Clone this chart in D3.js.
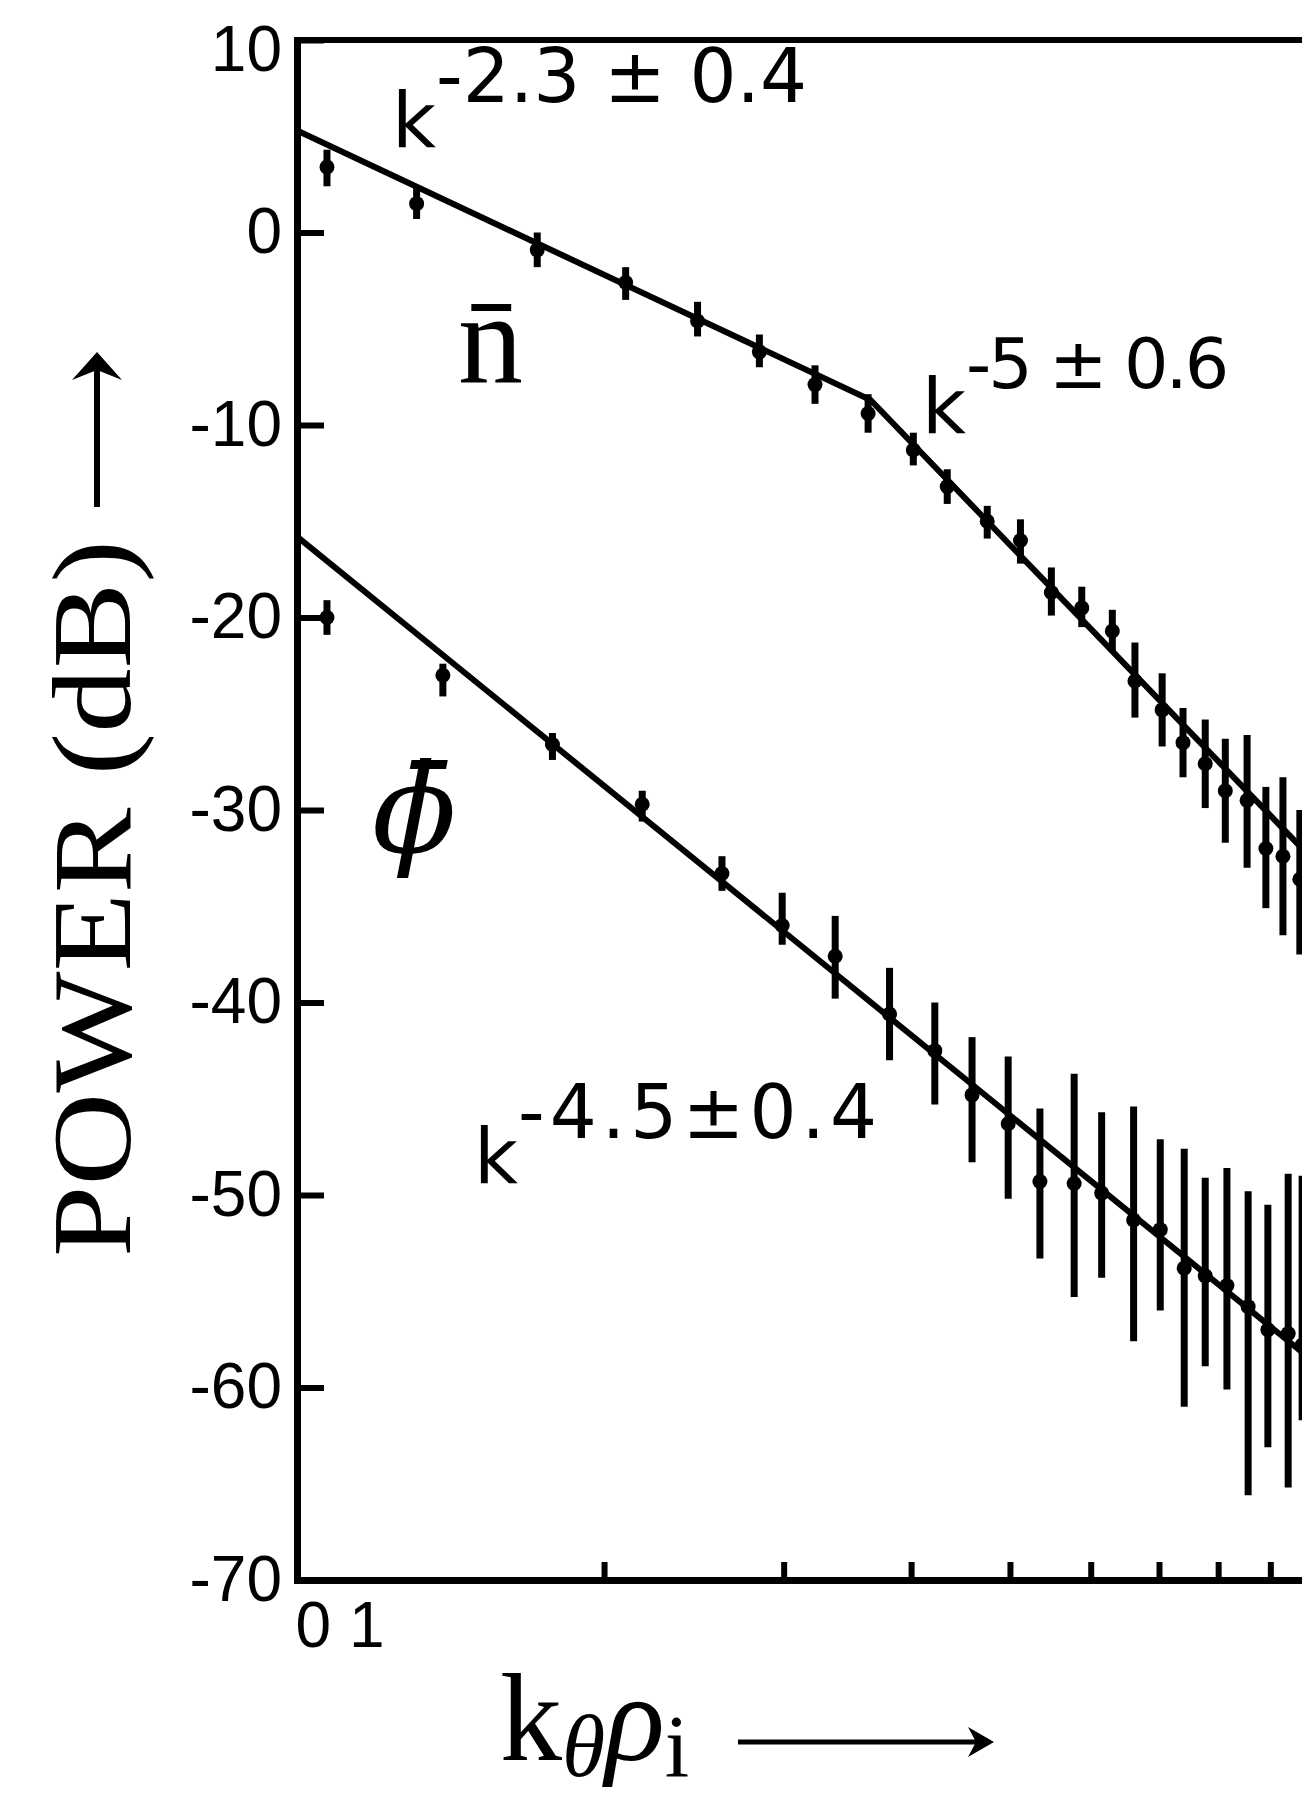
<!DOCTYPE html>
<html>
  <head>
    <meta charset="utf-8">
    <title>Power spectra of n and phi vs k_theta rho_i</title>
    <script src="https://d3js.org/d3.v7.min.js"></script>
    <style>
      body { margin: 0; background: #fff; }
      svg { display: block; }
      .axis text { font-family: "Liberation Sans", Arial, sans-serif; font-size: 64px; fill: #000; }
      .axis path, .axis line { stroke: #000; }
      .serif { font-family: "Liberation Serif", "Times New Roman", serif; fill: #000; }
      .ann { font-family: "DejaVu Sans", sans-serif; fill: #000; }
    </style>
  </head>
  <body>
  <div id="chart"></div>

  <script>
  // ---- data ----
  // x: k_theta rho_i (log axis), y: power in dB

  // density fluctuation spectrum (n bar)
  var nK  = [0.107, 0.131, 0.172, 0.210, 0.247, 0.284, 0.322, 0.363, 0.402, 0.434, 0.475, 0.512,
             0.549, 0.588, 0.630, 0.663, 0.705, 0.739, 0.777, 0.813, 0.854, 0.891, 0.926, 0.962];
  var nDb = [3.4, 1.5, -0.9, -2.6, -4.6, -6.2, -7.9, -9.4, -11.3, -13.2, -15.0, -16.0,
             -18.7, -19.5, -20.7, -23.3, -24.8, -26.5, -27.6, -29.0, -29.5, -32.0, -32.4, -33.6];
  var nHi = [4.3, 2.4, 0.0, -1.8, -3.6, -5.3, -6.9, -8.4, -10.4, -12.3, -14.2, -14.9,
             -17.4, -18.4, -19.6, -21.3, -22.9, -24.7, -25.3, -26.3, -26.1, -28.8, -28.3, -30.0];
  var nLo = [2.4, 0.7, -1.8, -3.5, -5.4, -7.0, -8.9, -10.4, -12.1, -14.1, -15.9, -17.2,
             -19.9, -20.5, -21.8, -25.2, -26.7, -28.3, -29.9, -31.7, -33.0, -35.1, -36.5, -37.5];

  // potential fluctuation spectrum (phi bar)
  var phiK  = [0.107, 0.139, 0.178, 0.218, 0.261, 0.299, 0.337, 0.381, 0.422, 0.459, 0.498, 0.535,
               0.578, 0.615, 0.661, 0.702, 0.741, 0.777, 0.816, 0.856, 0.895, 0.937, 0.967];
  var phiDb = [-20.0, -23.0, -26.6, -29.7, -33.3, -36.0, -37.6, -40.6, -42.5, -44.8, -46.3, -49.3,
               -49.4, -49.9, -51.3, -51.8, -53.8, -54.2, -54.7, -55.8, -57.0, -57.2, -57.8];
  var phiHi = [-19.1, -22.4, -26.0, -29.0, -32.4, -34.3, -35.5, -38.2, -40.0, -41.8, -42.8, -45.5,
               -43.7, -45.7, -45.4, -47.1, -47.6, -49.1, -48.6, -49.8, -50.5, -48.9, -49.0];
  var phiLo = [-20.9, -24.1, -27.4, -30.6, -34.2, -37.0, -39.8, -43.0, -45.3, -48.3, -50.2, -53.3,
               -55.3, -54.3, -57.6, -56.0, -61.0, -58.9, -60.1, -65.6, -63.1, -65.2, -61.7];

  // power-law fits (broken line for n, single line for phi)
  var nFitK = [0.1, 0.365, 1.0];
  var nFitDb = [5.3, -8.7, -32.8];
  var phiFitK = [0.1, 1.0];
  var phiFitDb = [-15.8, -58.8];

  // tick values
  var yTicks = [10, 0, -10, -20, -30, -40, -50, -60, -70];
  var xTicks = [0.1, 0.2, 0.3, 0.4, 0.5, 0.6, 0.7, 0.8, 0.9];

  // ---- layout ----
  var W = 1302, H = 1808;
  var plot = {left: 297, right: 1317, top: 40, bottom: 1580};  // right edge falls outside the page, like the scan

  var svg = d3.select("#chart")
    .append("svg")
      .attr("width", W)
      .attr("height", H);

  var x = d3.scaleLog()
    .domain([0.1, 1.0])
    .range([plot.left, plot.right]);

  var y = d3.scaleLinear()
    .domain([-70, 10])
    .range([plot.bottom, plot.top]);

  // top border of the frame
  svg.append("line")
    .attr("x1", x(0.1)).attr("x2", x(1.0))
    .attr("y1", y(10)).attr("y2", y(10))
    .attr("stroke", "#000").attr("stroke-width", 6)
    .attr("stroke-linecap", "square");

  // Y axis, ticks pointing inward
  var yAxis = svg.append("g")
    .attr("class", "axis")
    .attr("transform", "translate(" + plot.left + ",0)")
    .call(d3.axisLeft(y)
      .tickValues(yTicks)
      .tickSizeInner(-27)
      .tickSizeOuter(0)
      .tickPadding(15)
      .tickFormat(function(d) { return d < 0 ? "-" + Math.abs(d) : String(d); }));
  yAxis.select(".domain").attr("stroke-width", 7).attr("stroke-linecap", "square");
  yAxis.selectAll(".tick line").attr("stroke-width", 6);
  // the top label sits a little below its tick in the original
  yAxis.selectAll(".tick text").filter(function(d) { return d === 10; }).attr("dy", "0.48em");

  // X axis, only the origin is labelled
  var xAxis = svg.append("g")
    .attr("class", "axis")
    .attr("transform", "translate(0," + plot.bottom + ")")
    .call(d3.axisBottom(x)
      .tickValues(xTicks)
      .tickSizeInner(-18)
      .tickSizeOuter(0)
      .tickPadding(22)
      .tickFormat(function(d) { return d === 0.1 ? "01" : ""; }));
  xAxis.select(".domain").attr("stroke-width", 7).attr("stroke-linecap", "square");
  xAxis.selectAll(".tick line").attr("stroke-width", 6);
  xAxis.selectAll(".tick text")
    .attr("text-anchor", "start")
    .attr("x", -2)
    .style("letter-spacing", "18px");

  // ---- fit lines ----
  var fitLine = d3.line()
    .x(function(d) { return x(d[0]); })
    .y(function(d) { return y(d[1]); });

  svg.append("path")
    .datum(d3.zip(nFitK, nFitDb))
    .attr("fill", "none")
    .attr("stroke", "#000")
    .attr("stroke-width", 6)
    .attr("d", fitLine);

  svg.append("path")
    .datum(d3.zip(phiFitK, phiFitDb))
    .attr("fill", "none")
    .attr("stroke", "#000")
    .attr("stroke-width", 6)
    .attr("d", fitLine);

  // ---- data points with error bars ----
  function drawPoints(ks, vals, his, los) {
    var pts = ks.map(function(k, i) { return {k: k, v: vals[i], hi: his[i], lo: los[i]}; });
    var g = svg.append("g");
    g.selectAll("line.err")
      .data(pts)
      .enter().append("line")
        .attr("class", "err")
        .attr("x1", function(d) { return x(d.k); })
        .attr("x2", function(d) { return x(d.k); })
        .attr("y1", function(d) { return y(d.hi); })
        .attr("y2", function(d) { return y(d.lo); })
        .attr("stroke", "#000")
        .attr("stroke-width", 7);
    g.selectAll("circle")
      .data(pts)
      .enter().append("circle")
        .attr("cx", function(d) { return x(d.k); })
        .attr("cy", function(d) { return y(d.v); })
        .attr("r", 7.5)
        .attr("fill", "#000");
  }
  drawPoints(nK, nDb, nHi, nLo);
  drawPoints(phiK, phiDb, phiHi, phiLo);

  // ---- annotations: k with a raised exponent, kept in one text element ----
  function powerLaw(xk, yk, supText, supSize, spacing) {
    var t = svg.append("text")
      .attr("class", "ann")
      .attr("x", xk).attr("y", yk)
      .style("font-size", "76px");
    t.append("tspan").text("k");
    t.append("tspan")
      .attr("dy", -45)
      .style("font-size", supSize + "px")
      .style("letter-spacing", spacing + "px")
      .text(supText);
  }
  powerLaw(392, 147, "-2.3 ± 0.4", 74, 0);
  powerLaw(922, 433, "-5 ± 0.6", 70, -3);
  powerLaw(474, 1183, "-4.5±0.4", 74, 5);

  // curve names
  svg.append("text")
    .attr("class", "serif")
    .attr("x", 458).attr("y", 383)
    .style("font-size", "130px")
    .text("n\u0304");

  svg.append("text")
    .attr("x", 372).attr("y", 852)
    .style("font-family", "'DejaVu Serif', serif")
    .style("font-size", "124px")
    .style("font-style", "italic")
    .text("\u03d5\u0304");

  // ---- axis titles ----
  svg.append("text")
    .attr("class", "serif")
    .attr("transform", "translate(130,1257) rotate(-90)")
    .attr("textLength", 717)
    .attr("lengthAdjust", "spacingAndGlyphs")
    .style("font-size", "112px")
    .text("POWER (dB)");

  // vertical arrow next to the y title
  svg.append("line")
    .attr("x1", 97).attr("x2", 97)
    .attr("y1", 507).attr("y2", 365)
    .attr("stroke", "#000").attr("stroke-width", 6);
  svg.append("path")
    .attr("d", "M97,352 L122,380 L97,370 L72,380 Z")
    .attr("fill", "#000");

  var xt = svg.append("text")
    .attr("class", "serif")
    .attr("x", 500).attr("y", 1760)
    .style("font-size", "124px");
  xt.append("tspan").text("k");
  xt.append("tspan").attr("dy", 16).style("font-size", "88px").style("font-style", "italic").text("\u03b8");
  xt.append("tspan").attr("dy", -16).style("font-style", "italic").text("\u03c1");
  xt.append("tspan").attr("dy", 16).style("font-size", "88px").text("i");

  // horizontal arrow next to the x title
  svg.append("line")
    .attr("x1", 738).attr("x2", 982)
    .attr("y1", 1742).attr("y2", 1742)
    .attr("stroke", "#000").attr("stroke-width", 5);
  svg.append("path")
    .attr("d", "M994,1742 L968,1727 L976,1742 L968,1757 Z")
    .attr("fill", "#000");
  </script>
  </body>
</html>
